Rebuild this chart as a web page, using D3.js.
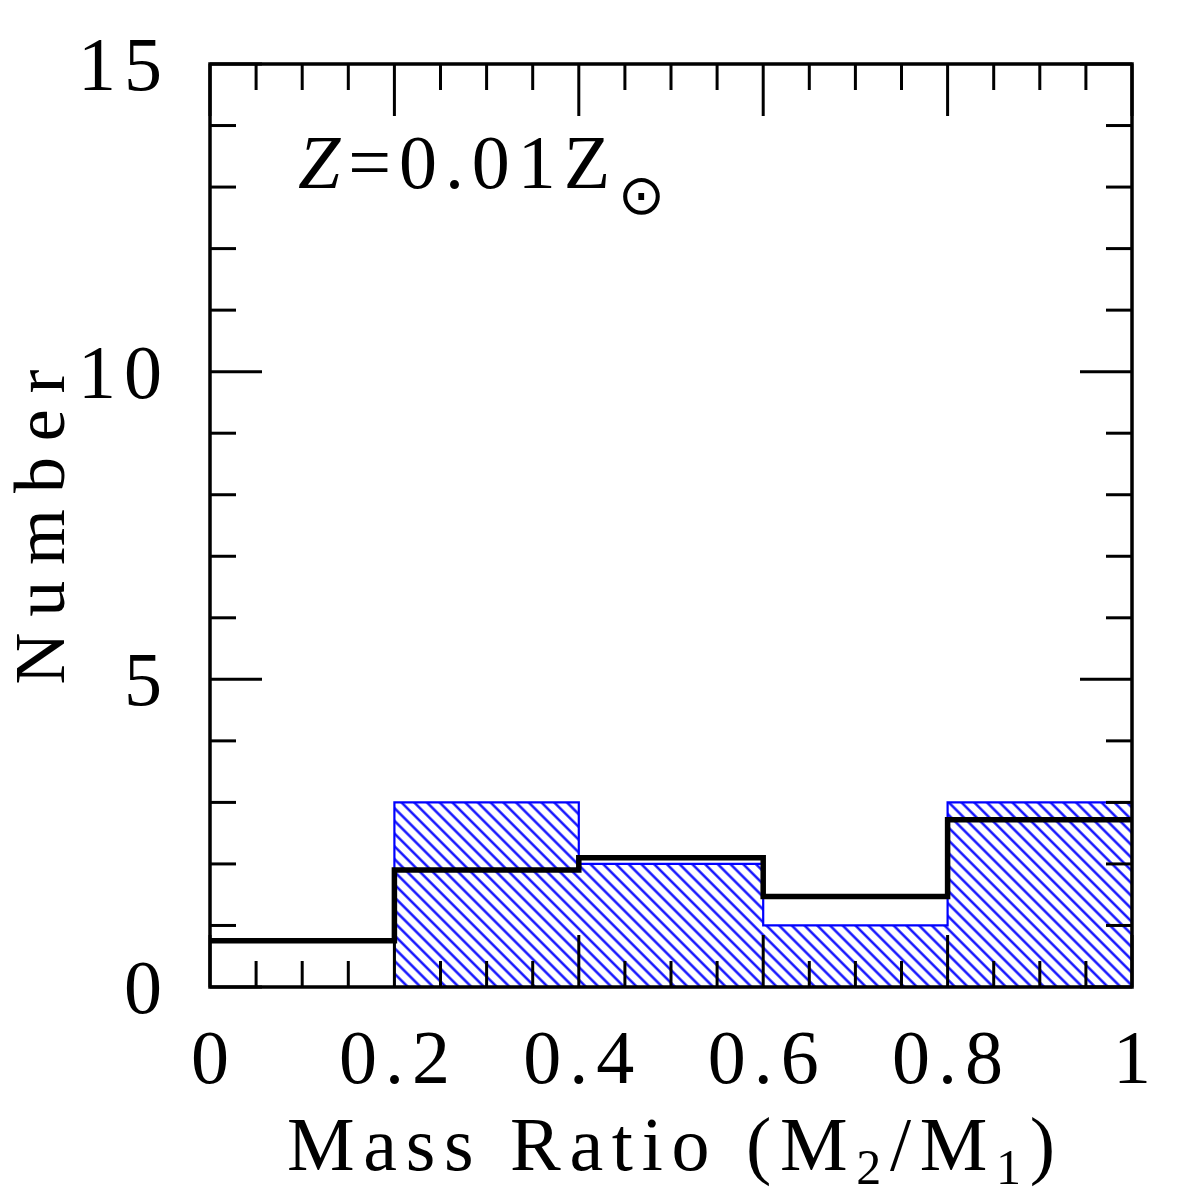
<!DOCTYPE html>
<html>
<head>
<meta charset="utf-8">
<script src="https://cdn.jsdelivr.net/npm/d3@7"></script>
<style>
html,body{margin:0;padding:0;background:#fff;}
svg{display:block;}
text{font-family:"Liberation Serif","Times New Roman",serif;fill:#000;}
</style>
</head>
<body>
<svg id="chart" width="1196" height="1196"></svg>
<script>
// ---- data ----
const binEdges = [0, 0.2, 0.4, 0.6, 0.8, 1.0];
const hatchedCounts = [0, 3, 2, 1, 3];          // blue hatched histogram
const lineCounts = [0.75, 1.9, 2.1, 1.47, 2.72]; // black step histogram
const xTickLabels = ["0", "0.2", "0.4", "0.6", "0.8", "1"];
const xTickValues = [0, 0.2, 0.4, 0.6, 0.8, 1.0];
const yTickValues = [0, 5, 10, 15];
const yTickLabels = ["0", "5", "10", "15"];
const xLabel = "Mass Ratio";
const yLabel = "Number";

// ---- layout ----
const L = 210, R = 1132, T = 64, B = 987;
const svg = d3.select("#chart");
const x = d3.scaleLinear().domain([0, 1]).range([L, R]);
const y = d3.scaleLinear().domain([0, 15]).range([B, T]);

// hatch pattern
const defs = svg.append("defs");
const pat = defs.append("pattern")
  .attr("id", "hatch").attr("patternUnits", "userSpaceOnUse")
  .attr("width", 9).attr("height", 9)
  .attr("patternTransform", "rotate(45)");
pat.append("line").attr("x1", -1).attr("y1", 4.5).attr("x2", 10).attr("y2", 4.5)
  .attr("stroke", "#0000ff").attr("stroke-width", 2.3);

function stepPoints(counts) {
  const pts = [];
  counts.forEach((c, i) => { pts.push([binEdges[i], c]); pts.push([binEdges[i + 1], c]); });
  return pts;
}

// hatched histogram as a single filled step outline
const hPts = [[binEdges[0], 0], ...stepPoints(hatchedCounts), [binEdges[binEdges.length - 1], 0]];
svg.append("path")
  .attr("d", d3.line().x(d => x(d[0])).y(d => y(d[1]))(hPts) + "Z")
  .attr("fill", "url(#hatch)").attr("stroke", "#0000ff").attr("stroke-width", 2.2);

// black step line
svg.append("path")
  .attr("d", d3.line().x(d => x(d[0])).y(d => y(d[1]))(stepPoints(lineCounts)))
  .attr("fill", "none").attr("stroke", "#000").attr("stroke-width", 5.5)
  .attr("stroke-linejoin", "miter");

// ticks (inward on all sides)
const tk = svg.append("g").attr("stroke", "#000").attr("stroke-width", 3);
d3.range(0, 1.0001, 0.05).forEach(v => {
  const major = Math.abs(v / 0.2 - Math.round(v / 0.2)) < 1e-6;
  const len = major ? 52 : 26;
  tk.append("line").attr("x1", x(v)).attr("x2", x(v)).attr("y1", B).attr("y2", B - len);
  tk.append("line").attr("x1", x(v)).attr("x2", x(v)).attr("y1", T).attr("y2", T + len);
});
d3.range(0, 15.001, 1).forEach(v => {
  const major = v % 5 === 0;
  const len = major ? 52 : 26;
  tk.append("line").attr("y1", y(v)).attr("y2", y(v)).attr("x1", L).attr("x2", L + len);
  tk.append("line").attr("y1", y(v)).attr("y2", y(v)).attr("x1", R).attr("x2", R - len);
});

// frame
svg.append("rect").attr("x", L).attr("y", T).attr("width", R - L).attr("height", B - T)
  .attr("fill", "none").attr("stroke", "#000").attr("stroke-width", 3.5);

// tick labels
svg.append("g").selectAll("text").data(xTickValues).join("text")
  .attr("x", d => x(d) + 4).attr("y", 1083)
  .attr("text-anchor", "middle").attr("font-size", 76).attr("letter-spacing", 8)
  .text((d, i) => xTickLabels[i]);
svg.append("g").selectAll("text").data(yTickValues).join("text")
  .attr("x", 170).attr("y", d => y(d) + 26)
  .attr("text-anchor", "end").attr("font-size", 76).attr("letter-spacing", 8)
  .text((d, i) => yTickLabels[i]);

// x axis label
const xl = svg.append("text").attr("x", 287).attr("y", 1170).attr("font-size", 76)
  .attr("textLength", 768).attr("lengthAdjust", "spacing");
xl.append("tspan").text(xLabel + " (M");
xl.append("tspan").attr("font-size", 50).attr("dy", 14).text("2");
xl.append("tspan").attr("dy", -14).text("/M");
xl.append("tspan").attr("font-size", 50).attr("dy", 14).text("1");
xl.append("tspan").attr("dy", -14).text(")");

// y axis label
svg.append("text").attr("transform", "translate(64,527) rotate(-90)")
  .attr("text-anchor", "middle").attr("font-size", 72)
  .attr("textLength", 315).attr("lengthAdjust", "spacing")
  .text(yLabel);

// annotation
const ann = svg.append("text").attr("x", 298).attr("y", 188).attr("font-size", 76)
  .attr("textLength", 367).attr("lengthAdjust", "spacing");
ann.append("tspan").attr("font-style", "italic").text("Z");
ann.append("tspan").text("=0.01Z");
ann.append("tspan").attr("font-family", "DejaVu Sans").attr("font-size", 56).attr("dy", 26).text("\u2299");
</script>
</body>
</html>
